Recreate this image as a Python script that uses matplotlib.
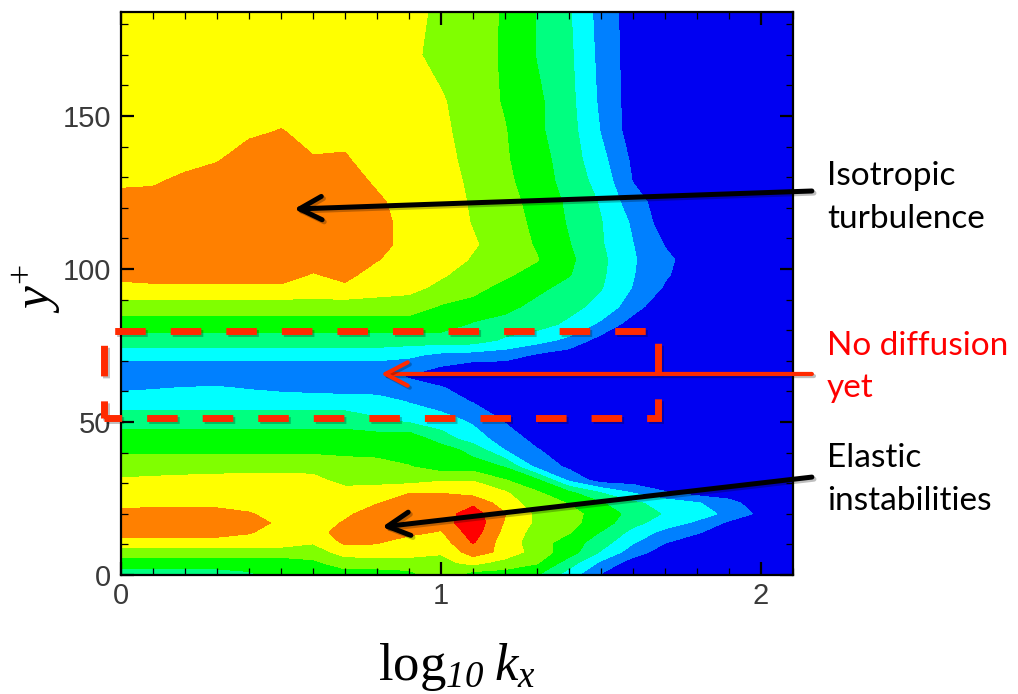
import numpy as np
import matplotlib
matplotlib.use("Agg")
import matplotlib.pyplot as plt
import matplotlib.patheffects as pe
from matplotlib.patches import Rectangle
from matplotlib.ticker import MultipleLocator

# ---------------------------------------------------------------------------
# Spectral map: contour band index on a (log10 kx, y+) grid
# ---------------------------------------------------------------------------
log_kx = [0.0, 0.1, 0.2, 0.3, 0.4, 0.5, 0.6, 0.7, 0.8, 0.9, 1.0,
          1.1, 1.2, 1.3, 1.4, 1.5, 1.6, 1.7, 1.8, 1.9, 2.0, 2.1]

y_plus = [0, 4, 7.5, 10.7, 14, 17, 20, 23.5, 27, 31, 35.4, 41, 44.5, 50.7,
          56.6, 61, 64.8, 68, 72, 76.8, 82, 87.7, 94, 98, 103, 108, 115,
          122, 129, 136, 145, 155, 170, 185]

level_rows = [
    [3, 3, 3, 3, 3.3, 4, 4, 4, 4, 4.2, 5, 4, 4, 3.55, 2, 0.4, 0, 0, 0, 0, 0, 0],
    [4, 4, 4, 4, 4, 4, 4.3, 5, 5, 5, 5.2, 5.8, 5.1, 4.6, 3.0, 1.3, 0, 0, 0, 0, 0, 0],
    [5, 5, 5, 5, 5, 5, 5, 5.9, 6, 6, 5.6, 7, 6.2, 5, 4, 2.4, 1.0, 0, 0, 0, 0, 0],
    [6, 6, 6, 6, 6, 6, 5.6, 6.7, 6.6, 6, 6, 7.6, 6, 5, 4, 3, 1.6, 0.55, 0, 0, 0, 0],
    [7, 7, 7, 7, 6.6, 6, 6, 7, 7, 6.8, 6.4, 8, 6.2, 5.1, 4.6, 3.45, 2.2, 1.2, 0.6, 0, 0, 0],
    [7, 7, 7, 7, 6.9, 6.3, 6, 6.6, 7, 7, 7, 8.2, 6.4, 5.3, 4.8, 4, 2.8, 2.0, 1.3, 0.3, 0, 0],
    [6.8, 6.9, 7, 7, 6.6, 6, 6, 6.3, 7, 7, 7, 8, 6.55, 5.3, 4.9, 4, 3.2, 2.4, 2.0, 1.2, 0.25, 0],
    [6.2, 6.2, 6.2, 6.1, 6, 6, 6, 6, 6.45, 7, 7, 7.3, 6, 5, 4.45, 3.6, 2.7, 2.1, 1.6, 0.8, 0, 0],
    [6, 6, 6, 6, 6, 6, 6, 6, 6.2, 6.45, 6.45, 6.1, 5.6, 4.6, 3.7, 2.45, 1.4, 0.55, 0, 0, 0, 0],
    [5.6, 5.7, 5.8, 5.9, 6, 6, 5.9, 5, 5, 5.1, 5.4, 5.45, 4.55, 3.7, 1.3, 0, 0, 0, 0, 0, 0, 0],
    [5, 5, 5, 5, 5, 5, 5, 5, 5, 4.55, 4, 4, 3.45, 1.2, 0.3, 0, 0, 0, 0, 0, 0, 0],
    [4.3, 4.3, 4.3, 4.3, 4.3, 4.3, 4.3, 4.15, 4, 4, 4, 3.1, 1.45, 0.55, 0, 0, 0, 0, 0, 0, 0, 0],
    [4, 4, 4, 4, 4, 4, 4, 4, 4, 4.2, 3, 2, 1, 0.2, 0, 0, 0, 0, 0, 0, 0, 0],
    [3, 3, 3, 3, 3, 3, 3, 3, 2.6, 2.2, 1.9, 1.3, 0.4, 0, 0, 0, 0, 0, 0, 0, 0, 0],
    [2, 2, 2, 2, 2, 2, 2, 2, 2, 1.45, 1, 0.45, 0, 0, 0, 0, 0, 0, 0, 0, 0, 0],
    [1.35, 1.45, 1.55, 1.6, 1.45, 1.3, 1.2, 1.1, 1, 1, 0.6, 0, 0, 0, 0, 0, 0, 0, 0, 0, 0, 0],
    [1, 1, 1, 1, 1, 1, 1, 1, 1, 0.4, 0, 0, 0, 0, 0, 0, 0, 0, 0, 0, 0, 0],
    [1, 1, 1, 1, 1, 1, 1, 1, 1, 1, 0.45, 0, 0, 0, 0, 0, 0, 0, 0, 0, 0, 0],
    [2, 2, 2, 2, 2, 2, 2, 2, 2, 1.7, 1.3, 1.15, 1, 0.4, 0, 0, 0, 0, 0, 0, 0, 0],
    [3, 3, 3, 3, 3, 3, 3, 3, 3, 3, 3, 3, 2.35, 1.9, 1.25, 0.1, 0, 0, 0, 0, 0, 0],
    [4, 4, 4, 4, 4, 4, 4, 4, 4, 4, 4, 3.4, 3.1, 2.9, 2.3, 1.3, 0, 0, 0, 0, 0, 0],
    [5, 5, 5, 5, 5, 5, 5, 5, 5, 5, 4.4, 4.2, 3.8, 3.2, 2.8, 2.2, 0.95, -0.3, 0, 0, 0, 0],
    [6.3, 6.3, 6.3, 6.3, 6.3, 6.3, 6.2, 6.3, 6, 5.8, 5.27, 4.76, 4.25, 3.75, 3.19, 2.56, 1.45, 0.4, 0, 0, 0, 0],
    [6.7, 6.9, 7, 7, 7, 7, 6.4, 6.8, 6, 6, 5.6, 5.12, 4.64, 4.1, 3.55, 2.67, 1.55, 0.6, 0, 0, 0, 0],
    [7, 7, 7, 7, 7, 7, 7, 7, 6.55, 6, 6, 5.4, 5.0, 4.55, 3.7, 2.74, 1.6, 0.72, 0, 0, 0, 0],
    [7, 7, 7, 7, 7, 7, 7, 7, 7, 6, 6, 5.6, 5.05, 4.4, 3.55, 2.6, 1.52, 0.45, 0, 0, 0, 0],
    [7, 7, 7, 7, 7, 7, 7, 7, 7, 6, 6, 5.45, 4.9, 4.3, 3.4, 2.55, 1.35, 0, 0, 0, 0, 0],
    [7, 7, 7, 7, 7, 7, 7, 7, 6.7, 6, 5.9, 5.4, 4.8, 4.2, 3.3, 2.4, 0.9, 0, 0, 0, 0, 0],
    [6.2, 6.3, 6.8, 7, 7, 7, 7, 7, 6.3, 6, 5.9, 5.3, 4.7, 4.0, 3.1, 2.1, 0.45, 0, 0, 0, 0, 0],
    [6, 6, 6, 6.4, 7, 7, 6.55, 6.6, 6, 6, 5.8, 5.2, 4.6, 3.9, 3.0, 1.8, 0.3, 0, 0, 0, 0, 0],
    [6, 6, 6, 6, 6.3, 6.55, 6.2, 6.2, 6, 6, 5.7, 5.1, 4.55, 3.7, 2.9, 1.45, 0, 0, 0, 0, 0, 0],
    [6, 6, 6, 6, 6, 6, 6, 6, 6, 6, 5.6, 5.0, 4.4, 3.7, 2.8, 1.3, 0, 0, 0, 0, 0, 0],
    [6, 6, 6, 6, 6, 6, 6, 6, 6, 5.7, 5.2, 4.8, 4.4, 3.45, 2.7, 1.2, 0, 0, 0, 0, 0, 0],
    [6, 6, 6, 6, 6, 6, 6, 6, 6, 5.8, 5.3, 4.9, 4.4, 3.45, 2.6, 1.1, 0, 0, 0, 0, 0, 0],
]

band_edges = [-5, 0.5, 1.5, 2.5, 3.5, 4.5, 5.5, 6.5, 7.5, 20]
band_colors = ["#0000F2", "#0080FF", "#00FFFF", "#00FF80", "#00FF00",
               "#80FF00", "#FFFF00", "#FF8000", "#FF0000"]

x_ticks = [0, 1, 2]
y_ticks = [0, 50, 100, 150]

# ---------------------------------------------------------------------------
plt.rcParams["font.family"] = ["Liberation Sans", "DejaVu Sans"]
plt.rcParams["mathtext.fontset"] = "custom"
plt.rcParams["mathtext.rm"] = "Liberation Serif"
plt.rcParams["mathtext.it"] = "Liberation Serif:italic"
plt.rcParams["mathtext.bf"] = "Liberation Serif:bold"
# italic digits for the logarithm base
plt.rcParams["mathtext.cal"] = "Liberation Serif:italic"

W, H = 1018, 694
fig = plt.figure(figsize=(W / 100, H / 100), dpi=100)
ax = fig.add_axes([121 / W, 119 / H, 672 / W, 563 / H])

X, Y = np.meshgrid(np.array(log_kx), np.array(y_plus))
Z = np.array(level_rows, dtype=float)
ax.contourf(X, Y, Z, levels=band_edges, colors=band_colors)

ax.set_xlim(0, 2.1)
ax.set_ylim(0, 184)
ax.set_xticks(x_ticks)
ax.set_xticklabels([str(v) for v in x_ticks])
ax.set_yticks(y_ticks)
ax.set_yticklabels([str(v) for v in y_ticks])
ax.xaxis.set_minor_locator(MultipleLocator(0.1))
ax.yaxis.set_minor_locator(MultipleLocator(10))
ax.tick_params(which="both", direction="in", top=True, right=True, color="black")
ax.tick_params(which="major", length=9.5, width=1.6, labelsize=21,
               labelcolor="#3a3a3a")
ax.tick_params(axis="x", which="major", pad=5)
ax.tick_params(axis="y", which="major", pad=7)
ax.tick_params(which="minor", length=5, width=0.9)
for s in ax.spines.values():
    s.set_linewidth(1.6)
    s.set_color("black")

# axis titles
fig.text(457 / W, 14 / H, r"$\mathrm{log}_{\mathcal{10}}\;k_x$", ha="center",
         va="baseline", fontsize=38, color="black")
fig.text(37 / W, 1 - 288 / H, r"$y^{+}$", rotation=90, ha="center",
         va="center", fontsize=37, color="black")

# ---------------------------------------------------------------------------
# annotations
# ---------------------------------------------------------------------------
shadow = [pe.SimpleLineShadow(offset=(1.5, -1.5), shadow_color="black", alpha=0.25),
          pe.Normal()]

box_red = "#FF2A00"
box = Rectangle((-0.053, 51.3), 1.731, 28.4, transform=ax.transData,
                fill=False, edgecolor=box_red, linewidth=5,
                linestyle=(1.86, (4.4, 3.6)), clip_on=False, zorder=5)
box.set_path_effects(shadow)
ax.add_patch(box)


def pointer(tip, tail, color, lw):
    ann = ax.annotate("", xy=tip, xytext=tail, xycoords="data", textcoords="data",
                      annotation_clip=False,
                      arrowprops=dict(arrowstyle="->,head_length=0.8,head_width=0.42",
                                      color=color, lw=lw, mutation_scale=20,
                                      shrinkA=0, shrinkB=0))
    ann.arrow_patch.set_path_effects(shadow)
    ann.set_zorder(6)
    return ann


pointer((0.541, 119.6), (2.159, 125.5), "black", 3.6)
pointer((0.8125, 65.7), (2.159, 65.7), box_red, 3.0)
pointer((0.816, 15.7), (2.159, 32.0), "black", 3.6)

label_font = ["Lato", "DejaVu Sans"]


def note(text, y_base_px, color):
    fig.text(827 / W, 1 - y_base_px / H, text, ha="left", va="baseline",
             fontsize=24, color=color, family=label_font)


note("Isotropic", 185, "black")
note("turbulence", 228, "black")
note("No diffusion", 355, "#FF0000")
note("yet", 397, "#FF0000")
note("Elastic", 467, "black")
note("instabilities", 510, "black")

fig.savefig("out.png", dpi=100)
